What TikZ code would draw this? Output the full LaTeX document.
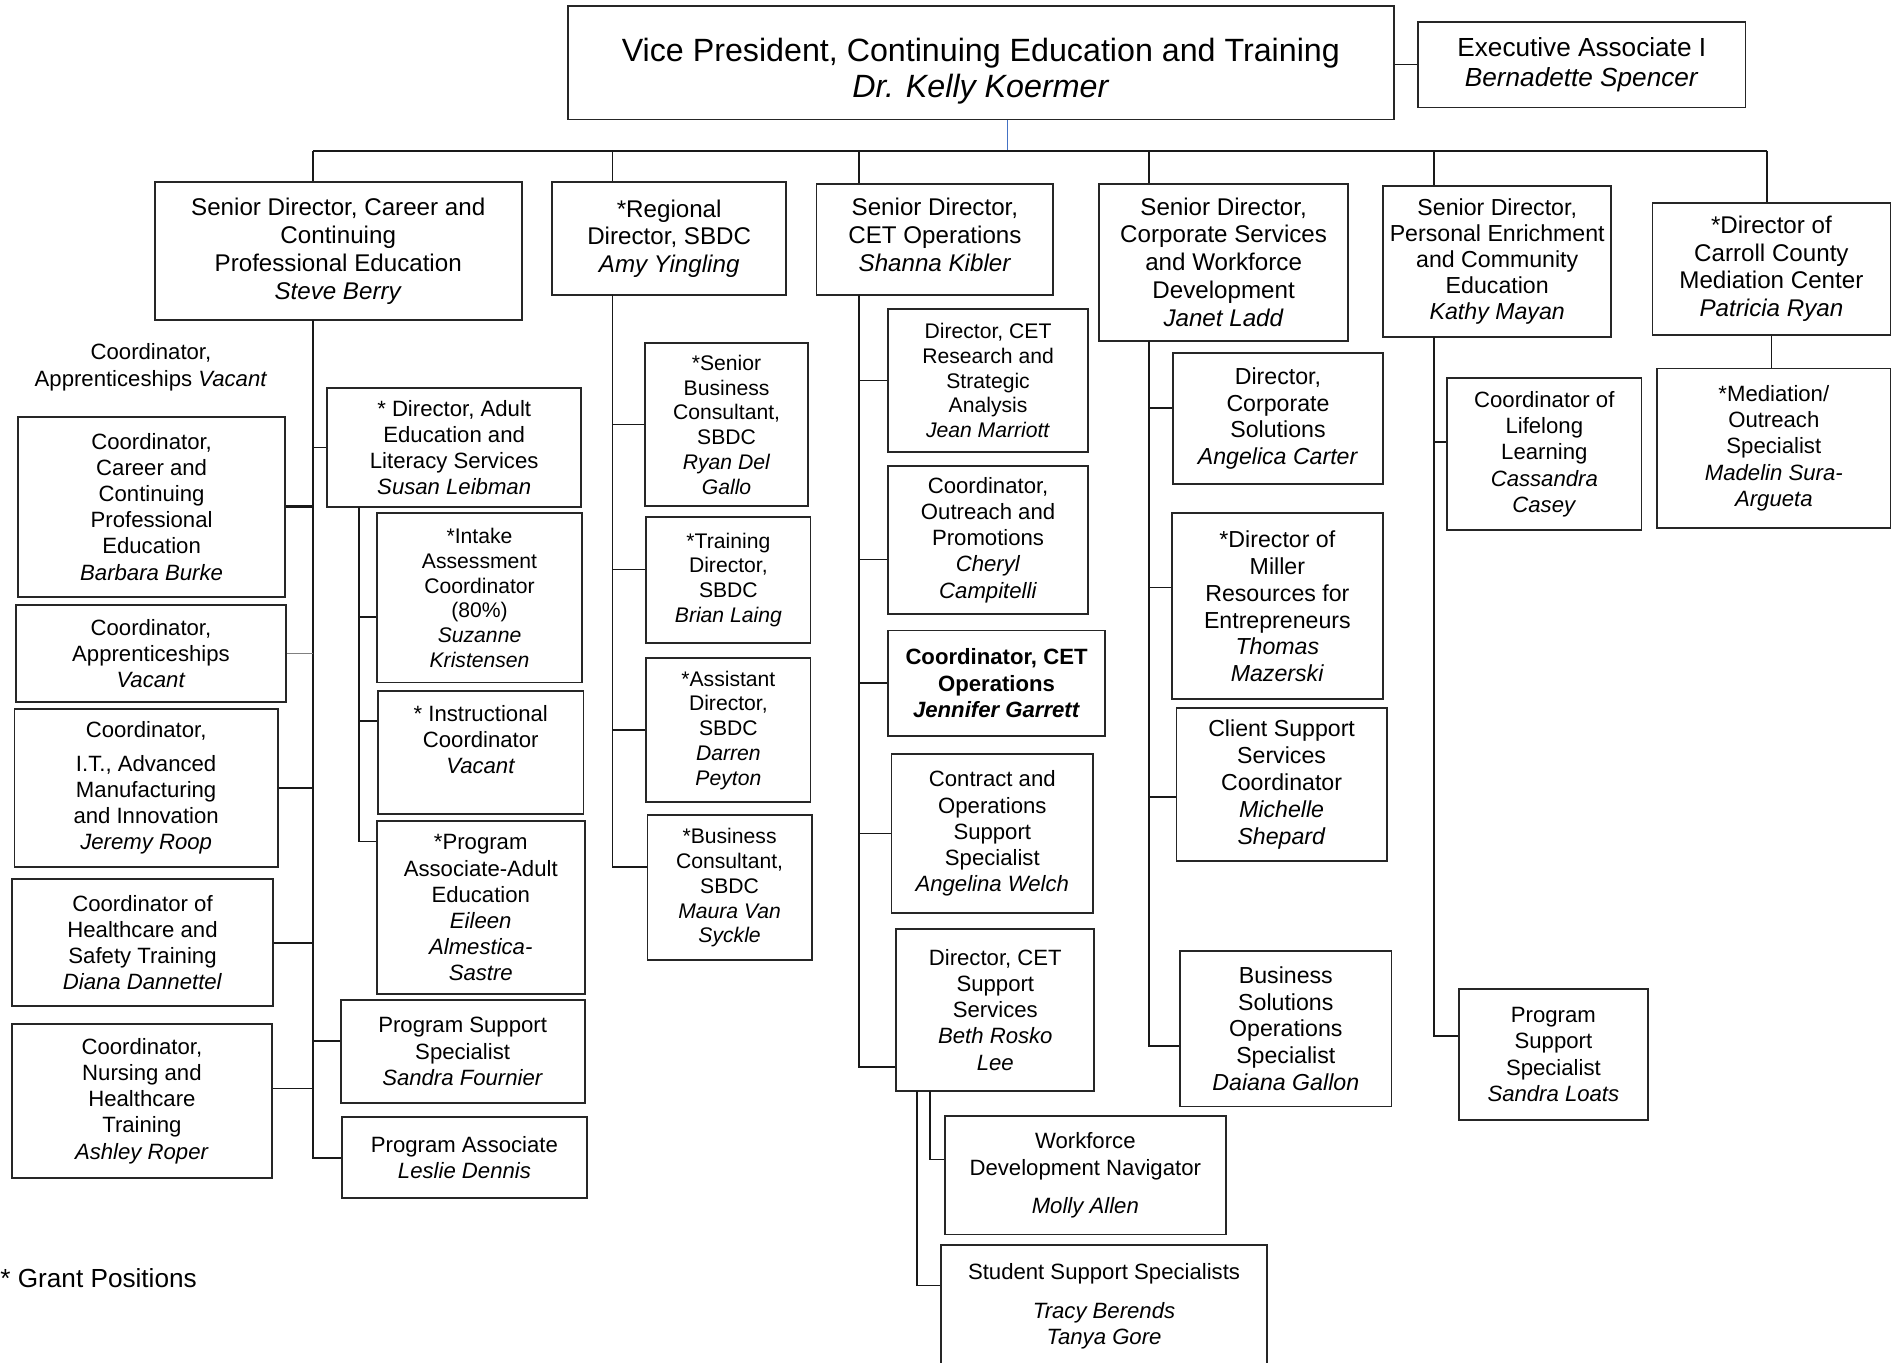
\documentclass[tikz,border=0pt]{standalone}
\usepackage{fontspec}
\setmainfont{Liberation Sans}
\usepackage{xcolor}
\usetikzlibrary{calc}
\definecolor{vpblue}{RGB}{68,114,196}

\begin{document}
\begin{tikzpicture}[x=0.6pt,y=-0.6pt,
    box/.style={draw=black!85,line width=0.9pt,inner sep=0pt,align=center,font=\fontsize{11}{13}\selectfont},
    sbox/.style={box,font=\fontsize{10.5}{12.3}\selectfont},
    cbox/.style={box,font=\fontsize{11.5}{13.3}\selectfont},
    hbox/.style={box,font=\fontsize{12}{13.8}\selectfont},
    sz/.style 2 args={minimum width=#1*0.6pt,minimum height=#2*0.6pt},
    link/.style={draw=black!90,line width=0.8pt},
    elbow/.style={to path={|- (\tikztotarget)}}]
        \useasboundingbox (0,0) rectangle (1568,1128);
        % top of the chart
        \node[box,sz={684}{94},font=\fontsize{16}{18}\selectfont](vp) at (812,52) {\rule{0pt}{20pt}Vice President, Continuing Education and Training\\\textit{Dr. Kelly Koermer}};
        \node[box,sz={271}{71},font=\fontsize{13}{15}\selectfont](exa) at (1309.5,53.5) {Executive Associate I\\\textit{Bernadette Spencer}};
        % heads
        \node[hbox,sz={304}{114}](cpe) at (280,208) {Senior Director, Career and\\Continuing\\Professional Education\\\textit{Steve Berry}};
        \node[hbox,sz={194}{93}](sbdc) at (554,197.5) {*Regional\\Director, SBDC\\\textit{Amy Yingling}};
        \node[hbox,sz={196}{92}](ops) at (774,198) {Senior Director,\\CET Operations\\\textit{Shanna Kibler}\\[-9.5pt]\mbox{}};
        \node[hbox,sz={206}{130}](corp) at (1013,217) {Senior Director,\\Corporate Services\\and Workforce\\Development\\\textit{Janet Ladd}};
        \node[hbox,sz={189}{125},font=\fontsize{11.5}{13}\selectfont](pec) at (1239.5,216.5) {Senior Director,\\Personal Enrichment\\and Community\\Education\\\textit{Kathy Mayan}};
        \node[hbox,sz={197}{109}](ccmc) at (1466.5,222.5) {*Director of\\Carroll County\\Mediation Center\\\textit{Patricia Ryan}};
        % career and continuing professional education
        \node[align=center,font=\fontsize{11}{13}\selectfont](capv) at (125,304) {Coordinator,\\Apprenticeships \textit{Vacant}};
        \node[box,sz={221}{149}](ccpe) at (125.5,419.5) {Coordinator,\\Career and\\Continuing\\Professional\\Education\\\textit{Barbara Burke}};
        \node[box,sz={224}{80}](appr) at (125,541) {Coordinator,\\Apprenticeships\\\textit{Vacant}};
        \node[box,sz={218}{131}](itam) at (121,652.5) {Coordinator,\\[3.6pt]I.T., Advanced\\Manufacturing\\and Innovation\\\textit{Jeremy Roop}};
        \node[box,sz={216}{105}](hst) at (118,780.5) {Coordinator of\\Healthcare and\\Safety Training\\\textit{Diana Dannettel}};
        \node[box,sz={215}{127}](nht) at (117.5,911.5) {Coordinator,\\Nursing and\\Healthcare\\Training\\\textit{Ashley Roper}};
        \node[box,sz={210}{99}](ael) at (376,370.5) {* Director, Adult\\Education and\\Literacy Services\\\textit{Susan Leibman}};
        \node[sbox,sz={170}{140}](iac) at (397,495) {*Intake\\Assessment\\Coordinator\\(80\%)\\\textit{Suzanne}\\\textit{Kristensen}};
        \node[box,sz={170}{102}](ic) at (398,623) {* Instructional\\Coordinator\\\textit{Vacant}\\\mbox{}};
        \node[box,sz={172}{143}](paae) at (398,751.5) {*Program\\Associate-Adult\\Education\\\textit{Eileen}\\\textit{Almestica-}\\\textit{Sastre}};
        \node[box,sz={202}{85}](pss) at (383,870.5) {Program Support\\Specialist\\\textit{Sandra Fournier}};
        \node[box,sz={203}{67}](pa) at (384.5,958.5) {Program Associate\\\textit{Leslie Dennis}};
        % sbdc
        \node[sbox,sz={135}{135}](sbc) at (601.5,351.5) {*Senior\\Business\\Consultant,\\SBDC\\\textit{Ryan Del}\\\textit{Gallo}};
        \node[sbox,sz={136}{104}](td) at (603,480) {*Training\\Director,\\SBDC\\\textit{Brian Laing}};
        \node[sbox,sz={136}{119}](ad) at (603,604.5) {*Assistant\\Director,\\SBDC\\\textit{Darren}\\\textit{Peyton}};
        \node[sbox,sz={136}{120}](bc) at (604,735) {*Business\\Consultant,\\SBDC\\\textit{Maura Van}\\\textit{Syckle}};
        % cet operations
        \node[sbox,sz={166}{118}](rsa) at (818,315) {Director, CET\\Research and\\Strategic\\Analysis\\\textit{Jean Marriott}};
        \node[box,sz={166}{122}](op) at (818,447) {Coordinator,\\Outreach and\\Promotions\\\textit{Cheryl}\\\textit{Campitelli}};
        \node[box,sz={180}{87},font=\fontsize{11}{13}\selectfont\bfseries](cco) at (825,565.5) {Coordinator, CET\\Operations\\\textit{Jennifer Garrett}};
        \node[box,sz={167}{132}](coss) at (821.5,690) {Contract and\\Operations\\Support\\Specialist\\\textit{Angelina Welch}};
        \node[box,sz={164}{134}](dss) at (824,836) {Director, CET\\Support\\Services\\\textit{Beth Rosko}\\\textit{Lee}};
        \node[box,sz={233}{98}](wdn) at (898.5,973) {Workforce\\Development Navigator\\[6pt]\textit{Molly Allen}};
        \node[box,sz={270}{101}](sss) at (914,1081.5) {Student Support Specialists\\[6pt]\textit{Tracy Berends}\\\textit{Tanya Gore}};
        % corporate services
        \node[cbox,sz={174}{109}](dcs) at (1058,346.5) {Director,\\Corporate\\Solutions\\\textit{Angelica Carter}};
        \node[cbox,sz={175}{154}](mre) at (1057.5,502) {*Director of\\Miller\\Resources for\\Entrepreneurs\\\textit{Thomas}\\\textit{Mazerski}};
        \node[cbox,sz={174}{127}](cssc) at (1061,649.5) {Client Support\\Services\\Coordinator\\\textit{Michelle}\\\textit{Shepard}};
        \node[cbox,sz={175}{129}](bsos) at (1064.5,851.5) {Business\\Solutions\\Operations\\Specialist\\\textit{Daiana Gallon}};
        % personal enrichment
        \node[box,sz={161}{126}](cll) at (1278.5,376) {Coordinator of\\Lifelong\\Learning\\\textit{Cassandra}\\\textit{Casey}};
        \node[box,sz={156}{108}](pss2) at (1286,873) {Program\\Support\\Specialist\\\textit{Sandra Loats}};
        % mediation
        \node[box,sz={193}{132}](mos) at (1468.5,371) {*Mediation/\\Outreach\\Specialist\\\textit{Madelin Sura-}\\\textit{Argueta}};
        \node[anchor=west,inner sep=0pt,font=\fontsize{13}{15}\selectfont](gp) at (0,1058) {* Grant Positions};

        % trunks
        \coordinate (bus) at (834,125);
        \coordinate (cpeT) at (259,265);
        \coordinate (aelT) at (297,420);
        \coordinate (sbdcT) at (507,244);
        \coordinate (opsT) at (711,244);
        \coordinate (dssA) at (759,903);
        \coordinate (dssB) at (770,903);
        \coordinate (corpT) at (951,282);
        \coordinate (pecT) at (1187,279);
        \coordinate (ccmcT) at (1463,168);

        \draw[link] (exa.west) -- (exa.west -| vp.east);
        \draw[vpblue,line width=0.7pt] (vp.south -| bus) -- (bus);
        \draw[link,line width=1pt] (cpeT |- bus) -- (ccmcT |- bus);
        \path[link] (cpeT |- bus)  edge (cpeT |- cpe.north)
                    (sbdcT |- bus) edge (sbdcT |- sbdc.north)
                    (opsT |- bus)  edge (opsT |- ops.north)
                    (corpT |- bus) edge (corpT |- corp.north)
                    (pecT |- bus)  edge (pecT |- pec.north)
                    (ccmcT |- bus) edge (ccmcT |- ccmc.north);

        \path[link] (cpeT) edge[elbow] (ccpe.east)
                           edge[elbow] (itam.east)
                           edge[elbow] (hst.east)
                           edge[elbow] ($(nht.north east)!0.42!(nht.south east)$)
                           edge[elbow] (ael.west)
                           edge[elbow] ($(pss.north west)!0.4!(pss.south west)$)
                           edge[elbow] (pa.west);
        \draw[link,line width=1.3pt] (ccpe.east) -- (ccpe.east -| cpeT);
        \draw[thin,gray] (appr.east) -- (appr.east -| cpeT);
        \path[link] (aelT) edge[elbow] ($(iac.north west)!0.61!(iac.south west)$)
                           edge[elbow] ($(ic.north west)!0.25!(ic.south west)$)
                           edge[elbow] ($(paae.north west)!0.12!(paae.south west)$);

        \path[link] (sbdcT) edge[elbow] (sbc.west)
                            edge[elbow] ($(td.north west)!0.42!(td.south west)$)
                            edge[elbow] (ad.west)
                            edge[elbow] ($(bc.north west)!0.36!(bc.south west)$);

        \path[link] (opsT) edge[elbow] (rsa.west)
                           edge[elbow] ($(op.north west)!0.63!(op.south west)$)
                           edge[elbow] (cco.west)
                           edge[elbow] (coss.west)
                           edge[elbow] ($(dss.north west)!0.85!(dss.south west)$);
        \path[link] (dssA) edge[elbow] ($(sss.north west)!0.33!(sss.south west)$)
                    (dssB) edge[elbow] ($(wdn.north west)!0.37!(wdn.south west)$);

        \path[link] (corpT) edge[elbow] ($(dcs.north west)!0.42!(dcs.south west)$)
                            edge[elbow] ($(mre.north west)!0.40!(mre.south west)$)
                            edge[elbow] ($(cssc.north west)!0.58!(cssc.south west)$)
                            edge[elbow] ($(bsos.north west)!0.61!(bsos.south west)$);

        \path[link] (pecT) edge[elbow] ($(cll.north west)!0.42!(cll.south west)$)
                           edge[elbow] ($(pss2.north west)!0.36!(pss2.south west)$);

        \path[link] (ccmc.south) edge (ccmc.south |- mos.north);
    \end{tikzpicture}
\end{document}
